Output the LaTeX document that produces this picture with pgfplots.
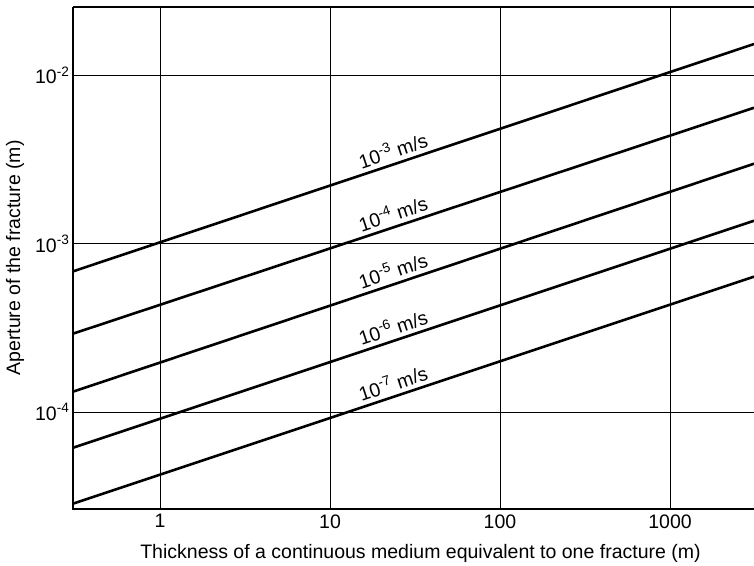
\documentclass[border=0pt]{standalone}
\usepackage{fontspec}
\setmainfont{Liberation Sans}
\usepackage{pgfplots}
\pgfplotsset{compat=1.18}
\newcommand{\lblfont}{\fontsize{19.5}{23}\selectfont}
\begin{document}
\begin{tikzpicture}
\begin{axis}[
  at={(0pt,0pt)}, anchor=south west,
  scale only axis, width=681pt, height=502pt,
  xmode=log, ymode=log,
  xmin=0.3077, xmax=3120, ymin=2.65e-5, ymax=0.02553,
  xtick={1,10,100,1000}, xticklabels={1,10,100,1000},
  ytick={1e-2,1e-3,1e-4},
  yticklabels={10\textsuperscript{-2},10\textsuperscript{-3},10\textsuperscript{-4}},
  major tick length=0pt, minor tick length=0pt,
  grid=major, major grid style={black, line width=0.8pt},
  axis line style={draw=none},
  clip mode=individual,
  tick label style={font=\lblfont},
  xticklabel style={yshift=-2pt},
  label style={font=\lblfont},
  xlabel={Thickness of a continuous medium equivalent to one fracture (m)},
  ylabel={Aperture of the fracture (m)},
  xlabel style={at={(axis description cs:0.5,0)}, anchor=center, yshift=-44pt, xshift=7pt},
  ylabel style={at={(axis description cs:0,0.5)}, anchor=center, rotate=0, yshift=58pt},
]
\addplot[black, line width=2.6pt] coordinates {(0.3077,6.85e-4) (3120,1.538e-2)}
  node[pos=0.476, sloped, above, inner sep=4pt, font=\lblfont] {10\textsuperscript{-3} m/s};
\addplot[black, line width=2.6pt] coordinates {(0.3077,2.92e-4) (3120,6.43e-3)}
  node[pos=0.476, sloped, above, inner sep=4pt, font=\lblfont] {10\textsuperscript{-4} m/s};
\addplot[black, line width=2.6pt] coordinates {(0.3077,1.32e-4) (3120,2.99e-3)}
  node[pos=0.476, sloped, above, inner sep=4pt, font=\lblfont] {10\textsuperscript{-5} m/s};
\addplot[black, line width=2.6pt] coordinates {(0.3077,6.13e-5) (3120,1.37e-3)}
  node[pos=0.476, sloped, above, inner sep=4pt, font=\lblfont] {10\textsuperscript{-6} m/s};
\addplot[black, line width=2.6pt] coordinates {(0.3077,2.85e-5) (3120,6.37e-4)}
  node[pos=0.476, sloped, above, inner sep=4pt, font=\lblfont] {10\textsuperscript{-7} m/s};
\draw[black, line width=1.4pt] (rel axis cs:0,1) -- (rel axis cs:0,0) -- (rel axis cs:1,0);
\draw[black, line width=1.2pt] (rel axis cs:0,1) -- (rel axis cs:1,1);
\end{axis}
\pgfresetboundingbox
\path[use as bounding box] (-73pt,-56pt) rectangle (681pt,509pt);
\end{tikzpicture}
\end{document}
